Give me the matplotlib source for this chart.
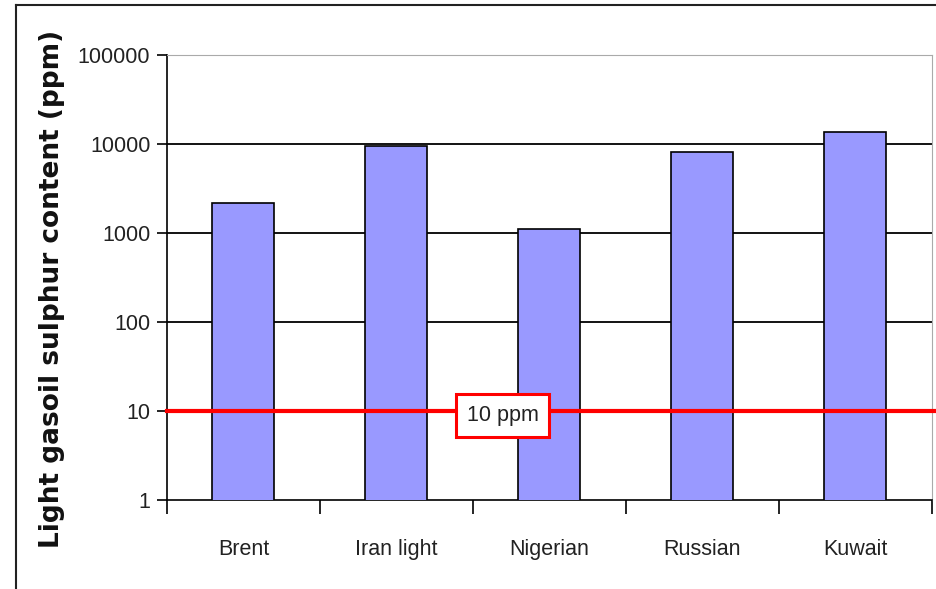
import numpy as np
import matplotlib.pyplot as plt
from matplotlib.lines import Line2D

plt.rcParams['font.family'] = ['Liberation Sans', 'DejaVu Sans']

crudes = ['Brent', 'Iran light', 'Nigerian', 'Russian', 'Kuwait']
sulphur_ppm = [2200, 9500, 1100, 8100, 13800]
yticks = [1, 10, 100, 1000, 10000, 100000]
limit_ppm = 10

fig = plt.figure(figsize=(9.36, 5.89), dpi=100)
ax = fig.add_axes([0.1784, 0.1511, 0.8173, 0.7555])

x = np.arange(len(crudes))
ax.bar(x, sulphur_ppm, width=0.405, color='#9999ff', edgecolor='black', linewidth=1.2, zorder=3)

ax.set_yscale('log')
ax.set_ylim(1, 100000)
ax.set_xlim(-0.5, len(crudes) - 0.5)
ax.set_yticks(yticks)
ax.set_yticklabels([str(t) for t in yticks], fontsize=15.5, color='#222222')
ax.yaxis.set_minor_locator(plt.NullLocator())
ax.tick_params(axis='y', length=7, width=1.2, pad=5)

ax.set_xticks(x)
ax.set_xticklabels(crudes, fontsize=15.5, color='#222222')
ax.tick_params(axis='x', which='major', length=0, pad=28)
ax.set_xticks(np.arange(len(crudes) + 1) - 0.5, minor=True)
ax.tick_params(axis='x', which='minor', length=10, width=1.2)

# grid lines at decades
for t in yticks[1:-1]:
    ax.axhline(t, color='black', linewidth=1.3, zorder=1)

ax.spines['top'].set_color('#aaaaaa')
ax.spines['right'].set_color('#aaaaaa')
ax.spines['left'].set_linewidth(1.2)
ax.spines['bottom'].set_linewidth(1.2)

# 10 ppm limit
ax.axhline(limit_ppm, xmin=0, xmax=1.005, color='red', linewidth=3, zorder=4, clip_on=False)
ax.text(1.693, 8.9, '10 ppm', fontsize=15.5, ha='center', va='center', color='#222222', zorder=5,
        bbox=dict(boxstyle='square,pad=0.5', facecolor='white', edgecolor='red', linewidth=2.2))

fig.text(0.056, 0.51, 'Light gasoil sulphur content (ppm)', rotation=90, fontsize=19,
         fontweight='bold', family='DejaVu Sans', ha='center', va='center', color='#111111')

# outer frame
fig.add_artist(Line2D([16 / 936, 1], [1 - 5 / 589, 1 - 5 / 589], color='#222222', linewidth=1.5))
fig.add_artist(Line2D([16 / 936, 16 / 936], [0, 1 - 5 / 589], color='#222222', linewidth=1.5))

fig.savefig('out.png', dpi=100)
